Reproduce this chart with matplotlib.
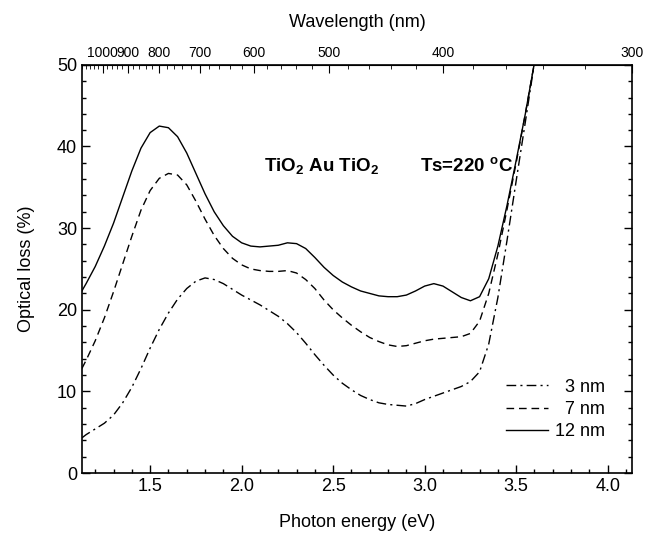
import numpy as np
import matplotlib
matplotlib.use("Agg")
import matplotlib.pyplot as plt
from matplotlib.ticker import MultipleLocator, FixedLocator, FormatStrFormatter

plt.rcParams["font.family"] = ["Liberation Sans", "DejaVu Sans"]
plt.rcParams["mathtext.fontset"] = "custom"
plt.rcParams["mathtext.rm"] = "Liberation Sans"
plt.rcParams["mathtext.bf"] = "Liberation Sans:bold"

# photon energy (eV) and optical loss (%)
energy = [1.127, 1.15, 1.2, 1.25, 1.3, 1.35, 1.4, 1.45, 1.5, 1.55, 1.6, 1.65,
          1.7, 1.75, 1.8, 1.85, 1.9, 1.95, 2.0, 2.05, 2.1, 2.15, 2.2, 2.25,
          2.3, 2.35, 2.4, 2.45, 2.5, 2.55, 2.6, 2.65, 2.7, 2.75, 2.8, 2.85,
          2.9, 2.95, 3.0, 3.05, 3.1, 3.15, 3.2, 3.25, 3.3, 3.35, 3.4, 3.45,
          3.5, 3.55, 3.6]

loss_3nm = [4.3, 4.7, 5.4, 6.1, 7.1, 8.6, 10.5, 12.8, 15.3, 17.6, 19.6, 21.3,
            22.6, 23.5, 23.9, 23.7, 23.2, 22.5, 21.8, 21.2, 20.6, 19.9, 19.2,
            18.3, 17.2, 15.9, 14.5, 13.2, 12.0, 11.0, 10.2, 9.5, 9.0, 8.6, 8.4,
            8.3, 8.2, 8.5, 9.0, 9.4, 9.8, 10.2, 10.6, 11.2, 12.4, 15.8, 21.5,
            28.5, 35.8, 43.0, 50.3]

loss_7nm = [12.8, 13.8, 16.2, 19.0, 22.2, 25.6, 29.0, 32.2, 34.6, 36.1, 36.7,
            36.5, 35.3, 33.3, 31.1, 29.1, 27.5, 26.3, 25.5, 25.0, 24.8, 24.7,
            24.7, 24.8, 24.5, 23.7, 22.6, 21.2, 20.0, 19.0, 18.1, 17.3, 16.6,
            16.1, 15.7, 15.5, 15.6, 15.9, 16.2, 16.4, 16.5, 16.6, 16.7, 17.1,
            18.6, 22.0, 26.8, 32.3, 38.0, 44.0, 50.3]

loss_12nm = [22.3, 23.2, 25.3, 27.8, 30.6, 33.8, 37.0, 39.8, 41.7, 42.5, 42.3,
             41.2, 39.2, 36.7, 34.2, 32.0, 30.3, 29.0, 28.2, 27.8, 27.7, 27.8,
             27.9, 28.2, 28.1, 27.5, 26.4, 25.2, 24.2, 23.4, 22.8, 22.3, 22.0,
             21.7, 21.6, 21.6, 21.8, 22.3, 22.9, 23.2, 22.9, 22.2, 21.5, 21.1,
             21.6, 23.8, 27.8, 32.8, 38.3, 44.0, 50.3]

wl_major = [1000, 900, 800, 700, 600, 500, 400, 300]
wl_minor = list(range(300, 1101, 20))

fig = plt.figure(figsize=(6.45, 5.36), dpi=100)
ax = fig.add_axes([0.127, 0.1175, 0.853, 0.7615])

ax.plot(energy, loss_3nm, color="black", lw=1.0, ls=(0, (7, 3, 1.5, 3)), label="  3 nm")
ax.plot(energy, loss_7nm, color="black", lw=1.0, ls=(0, (5.5, 3.5)), label="  7 nm")
ax.plot(energy, loss_12nm, color="black", lw=1.0, ls="-", label="12 nm")

ax.set_xlim(1240 / 1100, 1240 / 300)
ax.set_ylim(0, 50)
ax.xaxis.set_major_locator(MultipleLocator(0.5))
ax.xaxis.set_minor_locator(MultipleLocator(0.1))
ax.yaxis.set_major_locator(MultipleLocator(10))
ax.yaxis.set_minor_locator(MultipleLocator(2))
ax.xaxis.set_major_formatter(FormatStrFormatter("%.1f"))
ax.tick_params(which="both", direction="in", right=True, labelsize=13, width=1.0)
ax.tick_params(which="major", length=6)
ax.tick_params(which="minor", length=3)
ax.tick_params(axis="x", which="both", top=False)
for s in ax.spines.values():
    s.set_linewidth(1.2)

ax.set_xlabel("Photon energy (eV)", fontsize=13, labelpad=14)
ax.set_ylabel("Optical loss (%)", fontsize=13, labelpad=16)

top = ax.secondary_xaxis("top", functions=(lambda e: 1240 / e, lambda w: 1240 / w))
top.xaxis.set_major_locator(FixedLocator(wl_major))
top.xaxis.set_minor_locator(FixedLocator(wl_minor))
top.tick_params(which="both", direction="in", labelsize=10)
top.tick_params(which="major", length=6)
top.tick_params(which="minor", length=3)
top.set_xlabel("Wavelength (nm)", fontsize=13, labelpad=14)

ax.text(2.12, 37.5, r"TiO$_\mathbf{2}$ Au TiO$_\mathbf{2}$", fontsize=13.5,
        fontweight="bold", ha="left", va="center")
ax.text(2.975, 37.5, r"Ts=220 $^\mathbf{o}$C", fontsize=13.5,
        fontweight="bold", ha="left", va="center")

ax.legend(loc="lower right", frameon=False, fontsize=13, handlelength=2.3,
          bbox_to_anchor=(0.98, 0.04), labelspacing=0.3, handletextpad=0.4)

fig.savefig("out.png", dpi=100)
